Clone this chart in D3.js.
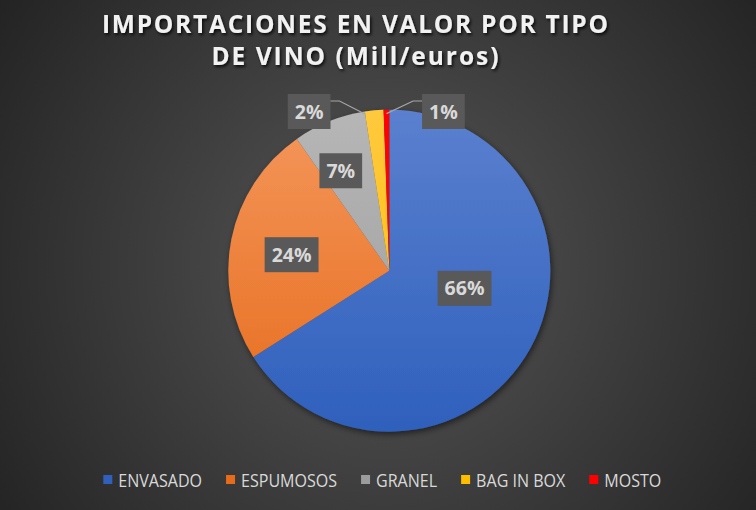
<!DOCTYPE html>
<html>
<head>
<meta charset="utf-8">
<script src="https://cdn.jsdelivr.net/npm/d3@7"></script>
<style>
  html, body { margin: 0; padding: 0; background: #262626; }
  svg { display: block; }
</style>
</head>
<body>
<div id="chart"></div>
<script>
// data
var categories = ["ENVASADO", "ESPUMOSOS", "GRANEL", "BAG IN BOX", "MOSTO"];
var values = [198.0, 72.8, 21.9, 5.6, 1.7];   // Mill/euros (estimated)
var titleLines = ["IMPORTACIONES EN VALOR POR TIPO", "DE VINO (Mill/euros)"];

// colours: [top, bottom] of each slice gradient
var colors = [
  ["#5b80cf", "#2e60bc"],
  ["#f4975c", "#e66b1b"],
  ["#b6b6b6", "#9c9c9c"],
  ["#ffc93d", "#ffbd00"],
  ["#ff0000", "#ff0000"]
];

var svgWidth = 756;
var svgHeight = 510;
var cx = 389.3, cy = 270.7, radius = 161;

var svg = d3.select("#chart")
  .append("svg")
  .attr("width", svgWidth)
  .attr("height", svgHeight);

var defs = svg.append("defs");

// background gradient
var bg = defs.append("radialGradient")
  .attr("id", "bg")
  .attr("gradientUnits", "userSpaceOnUse")
  .attr("cx", 385).attr("cy", 265).attr("r", 470);
bg.append("stop").attr("offset", "0%").attr("stop-color", "#575757");
bg.append("stop").attr("offset", "100%").attr("stop-color", "#232323");

svg.append("rect")
  .attr("width", svgWidth)
  .attr("height", svgHeight)
  .attr("fill", "url(#bg)");

// slice gradients (top lighter), coords local to the pie centre
colors.forEach(function(c, i) {
  var g = defs.append("linearGradient")
    .attr("id", "slice" + i)
    .attr("gradientUnits", "userSpaceOnUse")
    .attr("x1", 0).attr("y1", -radius)
    .attr("x2", 0).attr("y2", radius);
  g.append("stop").attr("offset", "0%").attr("stop-color", c[0]);
  g.append("stop").attr("offset", "100%").attr("stop-color", c[1]);
});

var shadow = defs.append("filter")
  .attr("id", "pieShadow")
  .attr("x", "-20%").attr("y", "-20%")
  .attr("width", "140%").attr("height", "140%");
shadow.append("feDropShadow")
  .attr("dx", 1.5).attr("dy", 2.5)
  .attr("stdDeviation", 3)
  .attr("flood-color", "#000")
  .attr("flood-opacity", 0.55);

var titleShadow = defs.append("filter")
  .attr("id", "titleShadow")
  .attr("x", "-10%").attr("y", "-30%")
  .attr("width", "120%").attr("height", "160%");
titleShadow.append("feDropShadow")
  .attr("dx", 1.5).attr("dy", 2)
  .attr("stdDeviation", 1.5)
  .attr("flood-color", "#000")
  .attr("flood-opacity", 0.8);

// title
var titleWidths = [506, 287];
var title = svg.append("g")
  .attr("filter", "url(#titleShadow)");
title.selectAll("text")
  .data(titleLines)
  .enter()
  .append("text")
  .attr("x", 355)
  .attr("y", function(d, i) { return 33 + i * 31.5; })
  .attr("text-anchor", "middle")
  .attr("fill", "#f2f2f2")
  .attr("textLength", function(d, i) { return titleWidths[i]; })
  .attr("lengthAdjust", "spacing")
  .style("font-family", "'Open Sans', sans-serif")
  .style("font-weight", 700)
  .style("font-size", "24.5px")
  .text(function(d) { return d; });

// pie
var total = d3.sum(values);
var pie = d3.pie().sort(null).value(function(d) { return d; });
var arcs = pie(values);
var arc = d3.arc().innerRadius(0).outerRadius(radius);

var chartGroup = svg.append("g")
  .attr("transform", `translate(${cx}, ${cy})`);

chartGroup.append("g")
  .attr("filter", "url(#pieShadow)")
  .selectAll("path")
  .data(arcs)
  .enter()
  .append("path")
  .attr("d", arc)
  .attr("fill", function(d, i) { return "url(#slice" + i + ")"; })
  .attr("stroke", "none");

var pct = d3.format(".0%");

// label placement: inside labels by angle / radius fraction, outside with leader
var labelPlace = [
  { inside: true, angle: 103.2, r: 0.48 },
  { inside: true, angle: 279.3, r: 0.615 },
  { inside: true, angle: 334.1, r: 0.69 },
  { inside: false, dx: -65, side: -1 },
  { inside: false, dx: 57, side: 1 }
];

var labelGroup = chartGroup.append("g");

arcs.forEach(function(d, i) {
  var p = labelPlace[i];
  var lx, ly;
  var mid = (d.startAngle + d.endAngle) / 2;
  var rimX = Math.sin(mid) * radius;
  var rimY = -Math.cos(mid) * radius;
  if (p.inside) {
    var a = p.angle * Math.PI / 180;
    lx = Math.sin(a) * radius * p.r;
    ly = -Math.cos(a) * radius * p.r;
  } else {
    lx = rimX + p.dx;
    ly = -159.2;
  }

  var g = labelGroup.append("g")
    .attr("transform", `translate(${lx}, ${ly})`);

  var txt = g.append("text")
    .attr("text-anchor", "middle")
    .attr("dy", "0.36em")
    .attr("fill", "#d9d9d9")
    .style("font-family", "'Open Sans', sans-serif")
    .style("font-weight", 700)
    .style("font-size", "19.5px")
    .text(pct(d.value / total));

  var w = txt.node().getComputedTextLength() + 14;
  var h = 35;
  g.insert("rect", "text")
    .attr("x", -w / 2)
    .attr("y", -h / 2)
    .attr("width", w)
    .attr("height", h)
    .attr("fill", "#595959");

  if (!p.inside) {
    var edgeX = lx - p.side * w / 2;
    var lineY = ly - 10.5;
    var elbowX = edgeX - p.side * 9;
    var endX = rimX * 0.985 + (p.side < 0 ? -9 : 0);
    var endY = rimY * 0.985 + 1.5;
    labelGroup.append("polyline")
      .attr("points", [[edgeX, lineY], [elbowX, lineY], [endX, endY]].map(function(q) { return q.join(","); }).join(" "))
      .attr("fill", "none")
      .attr("stroke", "#a6a6a6")
      .attr("stroke-width", 1.2);
  }
});

// legend
var legend = svg.append("g")
  .attr("transform", "translate(0, 480)");

var items = legend.selectAll("g")
  .data(categories)
  .enter()
  .append("g");

items.append("rect")
  .attr("x", 0)
  .attr("y", -5)
  .attr("width", 9)
  .attr("height", 9)
  .attr("fill", function(d, i) { return colors[i][1]; });

items.append("text")
  .attr("x", 15)
  .attr("y", 0)
  .attr("dy", "0.36em")
  .attr("fill", "#d9d9d9")
  .style("font-family", "'Open Sans', sans-serif")
  .style("font-size", "18.5px")
  .text(function(d) { return d; });

// squeeze text (Calibri-like narrow) so the legend spans the same width
var legendLeft = 103.3, legendSpan = 558, gap = 24;
var natural = [];
items.select("text").each(function() { natural.push(this.getComputedTextLength()); });
var squeeze = (legendSpan - 15 * categories.length - gap * (categories.length - 1)) / d3.sum(natural);
var widths = [];
items.select("text").each(function(d, i) {
  d3.select(this)
    .attr("textLength", natural[i] * squeeze)
    .attr("lengthAdjust", "spacingAndGlyphs");
  widths.push(15 + natural[i] * squeeze);
});
var xPos = legendLeft;
items.attr("transform", function(d, i) {
  var x = xPos;
  xPos += widths[i] + gap;
  return `translate(${x}, 0)`;
});
</script>
</body>
</html>
